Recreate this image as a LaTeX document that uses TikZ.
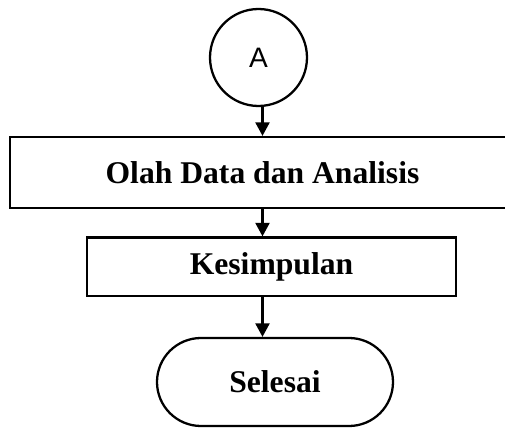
\documentclass[tikz,border=0pt]{standalone}
\usepackage{fontspec}
\setmainfont{Liberation Serif}
\newfontfamily\arialfont{Liberation Sans}
\usepackage{tikz}
\usetikzlibrary{arrows.meta}

\tikzset{
	kotak/.style={draw,line width=1.3pt,rectangle,align=center,font=\fontsize{18}{20}\selectfont\bfseries},
	konektor/.style={draw,line width=1.3pt,circle,font=\arialfont\fontsize{16}{18}\selectfont},
	panah/.style={line width=1.3pt,-{Triangle[width=0.28cm,length=0.27cm]}}
}

\begin{document}
\begin{tikzpicture}
	\useasboundingbox (0,0) rectangle (10.1,8.54);
	
	\node[konektor,minimum size=1.94cm,inner sep=0pt] (lingA) at (5.17,7.39) {A};
	\node[kotak,minimum width=10.1cm,minimum height=1.42cm] (olah) at (5.25,5.09) {Olah Data dan Analisis};
	\node[kotak,minimum width=7.38cm,minimum height=1.17cm] (simpul) at (5.43,3.205) {Kesimpulan};
	\node[kotak,minimum width=4.72cm,minimum height=1.76cm,rounded corners=0.88cm] (selesai) at (5.50,0.9) {Selesai};
	
	\coordinate (jalur) at (5.25,0);
	\draw[panah] (lingA.south -| jalur) -- (olah.north -| jalur);
	\draw[panah] (olah.south -| jalur) -- (simpul.north -| jalur);
	\draw[panah] (simpul.south -| jalur) -- (selesai.north -| jalur);
\end{tikzpicture}
\end{document}
